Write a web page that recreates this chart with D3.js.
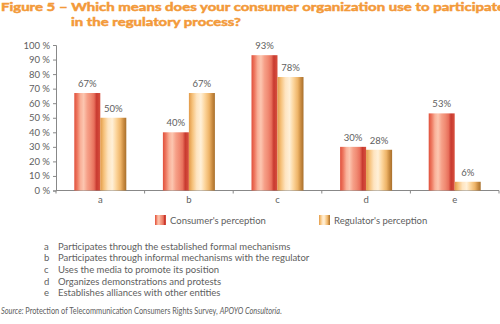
<!DOCTYPE html>
<html>
<head>
<meta charset="utf-8">
<script src="https://cdn.jsdelivr.net/npm/d3@7"></script>
<style>
  html, body { margin: 0; padding: 0; background: #fff; }
  svg { display: block; }
  text { font-family: Lato, "Open Sans", sans-serif; fill: #606060; }
</style>
</head>
<body>
<svg id="chart" width="500" height="324"></svg>
<script>
// Chart data
const categories = ["a", "b", "c", "d", "e"];
const seriesNames = ["Consumer's perception", "Regulator's perception"];
const consumerValues = [67, 40, 93, 30, 53];
const regulatorValues = [50, 67, 78, 28, 6];
const yTicks = [0, 10, 20, 30, 40, 50, 60, 70, 80, 90, 100];
const descriptions = [
  "Participates through the established formal mechanisms",
  "Participates through informal mechanisms with the regulator",
  "Uses the media to promote its position",
  "Organizes demonstrations and protests",
  "Establishes alliances with other entities"
];
const titleLines = [
  "Figure 5 \u2013 Which means does your consumer organization use to participate",
  "in the regulatory process?"
];

const svg = d3.select("#chart");

// Striped cylinder-like gradients for the two series
const defs = svg.append("defs");
function stripes(id, stops) {
  const g = defs.append("linearGradient").attr("id", id)
    .attr("x1", "0%").attr("x2", "100%").attr("y1", "0%").attr("y2", "0%");
  stops.forEach(([o, c]) => g.append("stop").attr("offset", o + "%").attr("stop-color", c));
}
stripes("gradConsumer", [
  [0, "#e0503c"], [12, "#ee7a62"], [24, "#f9b199"], [36, "#fcc6b0"],
  [50, "#f6a088"], [64, "#f08a72"], [76, "#e8705c"], [86, "#c83a30"], [100, "#d8503e"]
]);
stripes("gradRegulator", [
  [0, "#e29a48"], [14, "#f6c27c"], [30, "#fee4c0"], [46, "#fff0d8"],
  [62, "#fcd49a"], [78, "#eeb468"], [90, "#c88a40"], [100, "#a8702c"]
]);

// Title (heavy orange, two lines)
const title = svg.append("g")
  .style("font-family", "'DejaVu Sans', sans-serif").style("font-weight", "bold")
  .style("font-size", "11.5px");
title.append("text").attr("x", 1).attr("y", 11)
  .attr("textLength", 504).attr("lengthAdjust", "spacingAndGlyphs")
  .style("fill", "#f39a3a").attr("stroke", "#f39a3a").attr("stroke-width", 0.5)
  .text(titleLines[0]);
title.append("text").attr("x", 71).attr("y", 26)
  .attr("textLength", 170).attr("lengthAdjust", "spacingAndGlyphs")
  .style("fill", "#f39a3a").attr("stroke", "#f39a3a").attr("stroke-width", 0.5)
  .text(titleLines[1]);

// Scales
const x = d3.scaleBand().domain(categories).range([56, 499]).paddingInner(0).paddingOuter(0);
const y = d3.scaleLinear().domain([0, 100]).range([190.5, 45]);
const barW = 26;

// Y axis
const yAxis = d3.axisLeft(y).tickValues(yTicks).tickSize(3).tickPadding(3)
  .tickFormat(d => d + " %");
const gy = svg.append("g").attr("transform", "translate(56,0)").call(yAxis);
gy.select(".domain").attr("stroke", "#888");
gy.selectAll(".tick line").attr("stroke", "#888");
gy.selectAll(".tick text").style("font-size", "9.5px").style("fill", "#606060")
  .style("font-family", "Lato, sans-serif");

// X axis: baseline with ticks at category boundaries
const gx = svg.append("g");
gx.append("line").attr("x1", 56).attr("x2", 499).attr("y1", y(0)).attr("y2", y(0))
  .attr("stroke", "#888");
const boundaries = categories.map(c => x(c) + x.bandwidth()).concat([x(categories[0])]);
gx.selectAll("line.bd").data(boundaries).join("line").attr("class", "bd")
  .attr("x1", d => d).attr("x2", d => d)
  .attr("y1", y(0)).attr("y2", y(0) + 3).attr("stroke", "#888");
gx.selectAll("text.cat").data(categories).join("text").attr("class", "cat")
  .attr("x", d => x(d) + x.bandwidth() / 2).attr("y", 203)
  .attr("text-anchor", "middle").style("font-size", "9.5px").text(d => d);

// Bars
const rows = categories.map((c, i) => ({ c, values: [consumerValues[i], regulatorValues[i]] }));
const grads = ["url(#gradConsumer)", "url(#gradRegulator)"];
const groups = svg.selectAll("g.cat").data(rows).join("g").attr("class", "cat")
  .attr("transform", d => `translate(${x(d.c) + x.bandwidth() / 2 - barW},0)`);
groups.selectAll("rect").data(d => d.values).join("rect")
  .attr("x", (d, j) => j * barW).attr("width", barW)
  .attr("y", d => y(d)).attr("height", d => y(0) - y(d))
  .attr("fill", (d, j) => grads[j]);
groups.selectAll("text.val").data(d => d.values).join("text").attr("class", "val")
  .attr("x", (d, j) => j * barW + barW / 2).attr("y", d => y(d) - 6)
  .attr("text-anchor", "middle").style("font-size", "9.5px").text(d => d + "%");

// Legend
const legendX = [155, 319];
const legend = svg.selectAll("g.leg").data(seriesNames).join("g").attr("class", "leg")
  .attr("transform", (d, i) => `translate(${legendX[i]},215)`);
legend.append("rect").attr("width", 11).attr("height", 10).attr("fill", (d, i) => grads[i]);
legend.append("text").attr("x", 15).attr("y", 8.5).style("font-size", "9.5px").text(d => d);

// Category descriptions
const desc = svg.selectAll("g.desc").data(descriptions).join("g").attr("class", "desc")
  .attr("transform", (d, i) => `translate(0,${249.5 + i * 11.7})`);
desc.append("text").attr("x", 44).style("font-size", "9.5px").text((d, i) => categories[i]);
desc.append("text").attr("x", 58).style("font-size", "9.5px").text(d => d);

// Source note, set in a horizontally condensed face
const src = svg.append("text").attr("transform", "translate(1,313.5) scale(0.74,1)")
  .style("font-size", "10px");
src.append("tspan").style("font-style", "italic").text("Source: ");
src.append("tspan").text("Protection of Telecommunication Consumers Rights Survey, ");
src.append("tspan").style("font-style", "italic").text("APOYO Consultoría");
src.append("tspan").text(".");
</script>
</body>
</html>
